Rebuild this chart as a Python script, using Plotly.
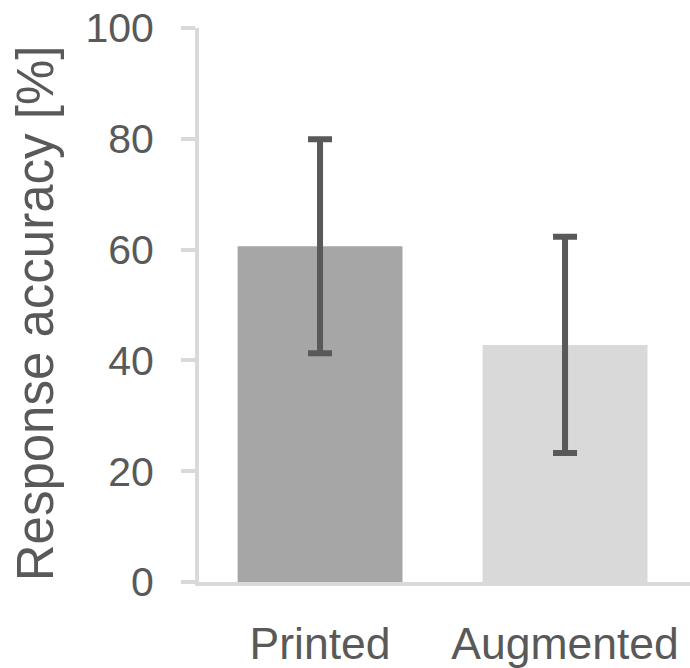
import plotly.graph_objects as go

# Mean response accuracy per condition, with error bar half-widths
conditions = ["Printed", "Augmented"]
accuracy = [60.6, 42.8]
accuracy_err = [19.3, 19.5]
bar_colors = ["#a6a6a6", "#d9d9d9"]

y_ticks = [0, 20, 40, 60, 80, 100]
y_title = "Response accuracy [%]"

text_color = "#595959"
axis_color = "#d9d9d9"
font_family = "Liberation Sans, Arial, sans-serif"

fig = go.Figure(
    go.Bar(
        x=conditions,
        y=accuracy,
        marker=dict(color=bar_colors, line=dict(width=0)),
        error_y=dict(
            type="data",
            array=accuracy_err,
            visible=True,
            color=text_color,
            thickness=6,
            width=12,
        ),
        width=0.673,
    )
)

fig.update_layout(
    width=690,
    height=668,
    margin=dict(l=199, r=0, t=28, b=82),
    paper_bgcolor="white",
    plot_bgcolor="white",
    showlegend=False,
    font=dict(family=font_family, color=text_color, size=44),
    xaxis=dict(
        type="category",
        range=[-0.494, 1.51],
        showline=True,
        linecolor=axis_color,
        linewidth=4,
        ticks="",
        showgrid=False,
        zeroline=False,
        tickfont=dict(size=44.5, color=text_color),
        ticklabelstandoff=20,
    ),
    yaxis=dict(
        range=[0, 100],
        tickvals=y_ticks,
        showline=True,
        linecolor=axis_color,
        linewidth=4,
        ticks="outside",
        ticklen=14,
        tickwidth=4,
        tickcolor=axis_color,
        showgrid=False,
        zeroline=False,
        tickfont=dict(size=41, color=text_color),
        ticklabelstandoff=19,
        automargin=False,
    ),
    annotations=[
        dict(
            text=y_title,
            textangle=-90,
            xref="paper",
            yref="paper",
            x=-0.334,
            y=0.485,
            xanchor="center",
            yanchor="middle",
            showarrow=False,
            font=dict(size=51, color=text_color, family=font_family),
        )
    ],
)

fig.write_html("out.html")
